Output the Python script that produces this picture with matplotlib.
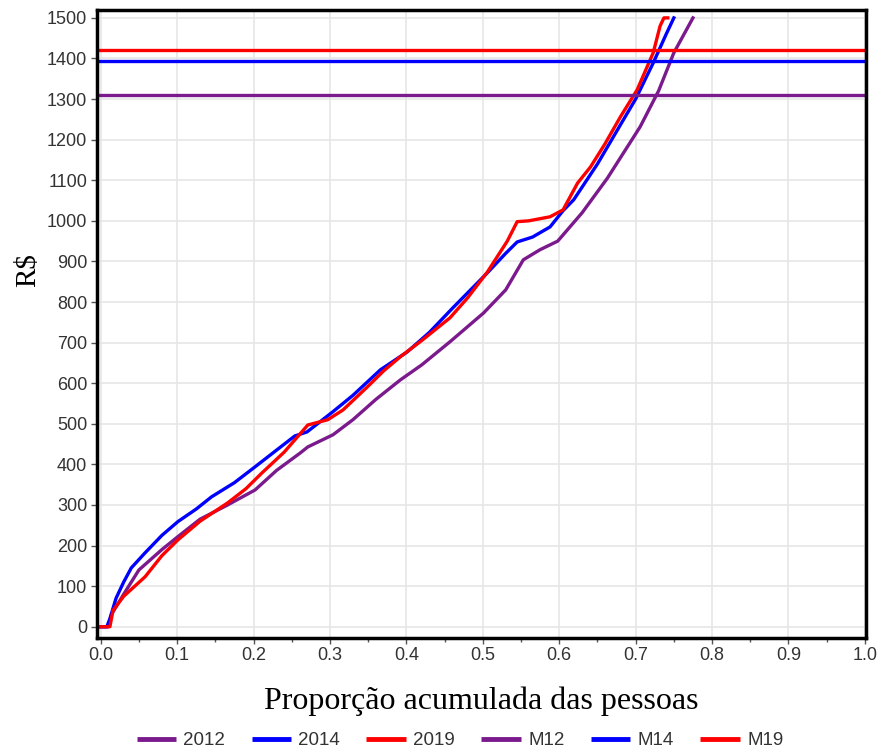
import matplotlib.pyplot as plt
from matplotlib.lines import Line2D

# curves: cumulative proportion of people vs R$
x_2012 = [0, 0.01, 0.014, 0.03, 0.05, 0.08, 0.101, 0.13, 0.166, 0.202, 0.23, 0.261, 0.271,
          0.304, 0.33, 0.36, 0.392, 0.42, 0.457, 0.501, 0.53, 0.553, 0.575, 0.598, 0.63,
          0.663, 0.706, 0.73, 0.75, 0.775]
y_2012 = [0, 0, 30, 80, 140, 190, 222, 265, 300, 337, 385, 428, 443,
          473, 510, 560, 608, 645, 702, 773, 830, 904, 929, 950, 1020,
          1105, 1232, 1320, 1414, 1500]

x_2014 = [0, 0.008, 0.012, 0.02, 0.03, 0.04, 0.058, 0.08, 0.101, 0.125, 0.145, 0.175, 0.202,
          0.23, 0.254, 0.27, 0.304, 0.33, 0.366, 0.401, 0.43, 0.461, 0.506, 0.53, 0.545,
          0.565, 0.588, 0.605, 0.619, 0.65, 0.684, 0.7, 0.723, 0.74, 0.75]
y_2014 = [0, 0, 20, 70, 110, 145, 182, 225, 259, 290, 320, 355, 394,
          435, 470, 480, 530, 570, 633, 677, 725, 786, 872, 920, 948,
          960, 985, 1025, 1052, 1140, 1249, 1300, 1389, 1460, 1500]

x_2019 = [0, 0.012, 0.016, 0.03, 0.058, 0.08, 0.101, 0.13, 0.166, 0.19, 0.211, 0.24, 0.271,
          0.297, 0.317, 0.349, 0.37, 0.392, 0.42, 0.457, 0.48, 0.506, 0.532, 0.545, 0.56,
          0.588, 0.605, 0.624, 0.641, 0.66, 0.68, 0.702, 0.723, 0.732, 0.737, 0.742]
y_2019 = [0, 0, 40, 75, 123, 175, 214, 260, 305, 340, 379, 430, 497,
          510, 534, 591, 630, 665, 705, 761, 810, 874, 950, 998, 1000,
          1010, 1027, 1093, 1133, 1190, 1256, 1323, 1414, 1480, 1500, 1500]

# reference levels
m12 = 1310
m14 = 1395
m19 = 1420

purple = '#7B1A8C'
blue = '#0000FF'
red = '#FF0000'

fig = plt.figure(figsize=(8.81, 7.52), dpi=100)
ax = fig.add_axes([0.110, 0.152, 0.873, 0.835])

lw = 2.4
ax.plot(x_2012, y_2012, color=purple, lw=lw)
ax.plot(x_2014, y_2014, color=blue, lw=lw)
ax.plot(x_2019, y_2019, color=red, lw=lw)
ax.axhline(m12, color=purple, lw=lw)
ax.axhline(m14, color=blue, lw=lw)
ax.axhline(m19, color=red, lw=lw)

ax.set_xlim(-0.005, 1.0015)
ax.set_ylim(-27, 1520)
ax.set_xticks([i / 10 for i in range(11)])
ax.set_xticklabels(['%.1f' % (i / 10) for i in range(11)])
ax.set_yticks(range(0, 1501, 100))
ax.set_xticks([i / 20 for i in range(21)], minor=True)

ax.grid(True, color='#E6E6E6', lw=1.2)
ax.set_axisbelow(True)
for s in ax.spines.values():
    s.set_linewidth(2.5)
    s.set_color('black')
ax.tick_params(which='both', direction='out', length=4, width=1, color='#555555',
               labelsize=13, labelcolor='#333333', pad=3)
ax.tick_params(which='minor', length=3)
for t in ax.get_xticklabels() + ax.get_yticklabels():
    t.set_fontfamily('Liberation Sans')

ax.set_xlabel('Proporção acumulada das pessoas', fontsize=23, family='Liberation Serif')
ax.set_ylabel('R$', fontsize=21, family='Liberation Serif')
ax.xaxis.set_label_coords(0.5, -0.078)
ax.yaxis.set_label_coords(-0.073, 0.586)

handles = [Line2D([0], [0], color=c, lw=3.5, solid_capstyle='butt')
           for c in [purple, blue, red, purple, blue, red]]
labels = ['2012', '2014', '2019', 'M12', 'M14', 'M19']
fig.legend(handles, labels, loc='center', bbox_to_anchor=(0.522, 0.015), ncol=6, frameon=False,
           prop={'family': 'Liberation Sans', 'size': 13.5}, handlelength=2.1, columnspacing=1.4,
           handletextpad=0.4, labelcolor='#333333')

fig.savefig('out.png', dpi=100)
